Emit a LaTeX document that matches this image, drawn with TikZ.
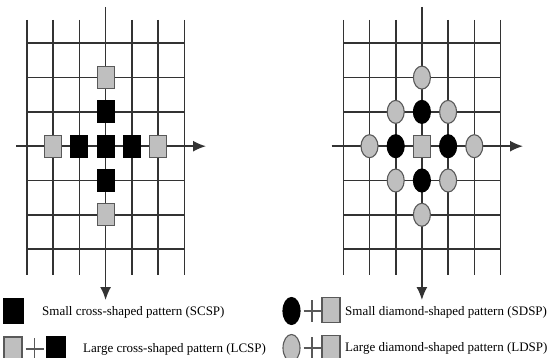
\documentclass[tikz,border=0pt]{standalone}
\usepackage{fontspec}
\setmainfont{Liberation Serif}
\usetikzlibrary{arrows.meta,shapes.geometric}
\begin{document}
\begin{tikzpicture}[x=1pt,y=-1pt,
  gridline/.style={draw=black!80, line width=1.6pt},
  axisline/.style={gridline, -{Latex[length=13pt,width=11pt]}},
  sq/.style={rectangle, draw=black!65, line width=1.1pt, minimum width=17pt, minimum height=22pt, inner sep=0pt},
  blacksq/.style={sq, fill=black, draw=black},
  graysq/.style={sq, fill=black!25},
  ell/.style={ellipse, draw=black!65, line width=1.1pt, minimum width=17pt, minimum height=23pt, inner sep=0pt},
  blackell/.style={ell, fill=black, draw=black},
  grayell/.style={ell, fill=black!25},
  legtext/.style={anchor=west, inner sep=0pt, font=\fontsize{13}{15}\selectfont},
  plussign/.style={draw=black!65, line width=1.6pt}
]
\useasboundingbox (0,0) rectangle (557,358);
\clip (0,0) rectangle (557,358);
% ---------- left grid ----------
\foreach \i in {0,...,6}
  \draw[gridline] ({26.7+26.3*\i},20) -- ({26.7+26.3*\i},275);
\foreach \j in {0,...,6}
  \draw[gridline] (26.7,{43.3+34.3*\j}) -- (184.5,{43.3+34.3*\j});
\coordinate (LT) at (105.6,7);
\coordinate (LB) at (105.6,300);
\coordinate (LL) at (16,146.2);
\coordinate (LR) at (206,146.2);
\draw[axisline] (LT) -- (LB);
\draw[axisline] (LL) -- (LR);
\node[graysq]  (l1) at (105.6,77.6) {};
\node[blacksq] (l2) at (105.6,111.9) {};
\node[graysq]  (l3) at (53.3,146.2) {};
\node[blacksq] (l4) at (79.3,146.2) {};
\node[blacksq] (l5) at (105.6,146.2) {};
\node[blacksq] (l6) at (131.9,146.2) {};
\node[graysq]  (l7) at (158.2,146.2) {};
\node[blacksq] (l8) at (105.6,180.5) {};
\node[graysq]  (l9) at (105.6,214.8) {};
% ---------- right grid ----------
\foreach \i in {0,...,6}
  \draw[gridline] ({343.3+26.2*\i},20) -- ({343.3+26.2*\i},275);
\foreach \j in {0,...,6}
  \draw[gridline] (343.3,{43.3+34.3*\j}) -- (500.5,{43.3+34.3*\j});
\coordinate (RT) at (421.9,7);
\coordinate (RB) at (421.9,300);
\coordinate (RL) at (331.7,146.2);
\coordinate (RR) at (523,146.2);
\draw[axisline] (RT) -- (RB);
\draw[axisline] (RL) -- (RR);
\node[grayell]  (r1)  at (421.9,77.6) {};
\node[grayell]  (r2)  at (395.7,111.9) {};
\node[blackell] (r3)  at (421.9,111.9) {};
\node[grayell]  (r4)  at (448.1,111.9) {};
\node[grayell]  (r5)  at (369.5,146.2) {};
\node[blackell] (r6)  at (395.7,146.2) {};
\node[graysq]   (r7)  at (421.9,146.2) {};
\node[blackell] (r8)  at (448.1,146.2) {};
\node[grayell]  (r9)  at (474.3,146.2) {};
\node[grayell]  (r10) at (395.7,180.5) {};
\node[blackell] (r11) at (421.9,180.5) {};
\node[grayell]  (r12) at (448.1,180.5) {};
\node[grayell]  (r13) at (421.9,214.8) {};
% ---------- legend ----------
\node[blacksq, minimum width=19pt, minimum height=24pt] (k1) at (13.5,311) {};
\node[legtext] (t1) at (42,312) {Small cross-shaped pattern (SCSP)};
\node[graysq, minimum width=18pt, minimum height=24pt] (k2a) at (13,349) {};
\draw[plussign] (25.5,349) -- (43.5,349) (34.5,338) -- (34.5,360);
\node[blacksq, minimum width=18pt, minimum height=24pt] (k2b) at (56,349) {};
\node[legtext] (t2) at (83,349) {Large cross-shaped pattern (LCSP)};
\node[blackell, minimum width=17pt, minimum height=27pt] (k3a) at (291.5,311) {};
\draw[plussign] (303.5,311) -- (321,311) (312.2,300) -- (312.2,322);
\node[graysq, minimum width=18pt, minimum height=25pt] (k3b) at (331,310) {};
\node[legtext] (t3) at (345,312) {Small diamond-shaped pattern (SDSP)};
\node[grayell, minimum width=17pt, minimum height=27pt] (k4a) at (291.5,348) {};
\draw[plussign] (303.5,348) -- (321,348) (312.2,337) -- (312.2,359);
\node[graysq, minimum width=18pt, minimum height=25pt] (k4b) at (331,348) {};
\node[legtext] (t4) at (345,348) {Large diamond-shaped pattern (LDSP)};
\end{tikzpicture}
\end{document}
